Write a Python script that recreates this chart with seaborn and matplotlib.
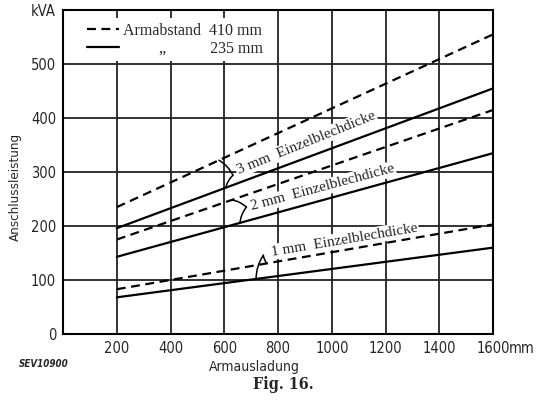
import matplotlib
matplotlib.use("Agg")
import matplotlib.pyplot as plt
from matplotlib.lines import Line2D
import seaborn as sns
import pandas as pd
import numpy as np

# Armausladung (mm), Endpunkte der Geraden
armausladung = [200, 1600]

# Armabstand 410 mm (gestrichelt)
d410_3mm = [235, 555]
d410_2mm = [175, 415]
d410_1mm = [83, 203]

# Armabstand 235 mm (ausgezogen)
d235_3mm = [196, 455]
d235_2mm = [143, 335]
d235_1mm = [68, 160]

x_ticks = [200, 400, 600, 800, 1000, 1200, 1400, 1600]
y_ticks = [0, 100, 200, 300, 400, 500]

rows = []
for abstand, series in [("410", {"3": d410_3mm, "2": d410_2mm, "1": d410_1mm}),
                        ("235", {"3": d235_3mm, "2": d235_2mm, "1": d235_1mm})]:
    for dicke, vals in series.items():
        for x, y in zip(armausladung, vals):
            rows.append({"x": x, "y": y, "abstand": abstand, "dicke": dicke})
df = pd.DataFrame(rows)

sns.set_style("white")
plt.rcParams["font.family"] = ["DejaVu Sans"]
plt.rcParams["font.stretch"] = "condensed"

fig = plt.figure(figsize=(5.39, 4.01), dpi=100)
ax = fig.add_axes([0.117, 0.167, 0.798, 0.808])

sns.lineplot(data=df, x="x", y="y", style="abstand", units="dicke",
             estimator=None, color="black", lw=1.6,
             dashes={"410": (4, 2.5), "235": ""}, legend=False, ax=ax, zorder=3)

ax.set_xlim(0, 1600)
ax.set_ylim(0, 600)
ax.set_xticks(x_ticks)
ax.set_xticklabels([str(v) for v in x_ticks], fontsize=10.5)
ax.set_yticks(y_ticks + [600])
ax.set_yticklabels([str(v) for v in y_ticks] + ["kVA"], fontsize=10.5)
ax.tick_params(length=0, pad=5)
ax.set_xlabel("")
ax.set_ylabel("")
for s in ax.spines.values():
    s.set_color("black")
    s.set_linewidth(1.5)
for v in x_ticks[:-1]:
    ax.axvline(v, color="#222222", lw=1.3, zorder=1)
for v in y_ticks[1:]:
    ax.axhline(v, color="#222222", lw=1.3, zorder=1)

ax.annotate("mm", xy=(1600, 0), xytext=(11.5, -5), textcoords="offset points",
            fontsize=10.5, ha="left", va="top")

# Beschriftungen
lbl = dict(fontsize=11, ha="center", va="center", zorder=2,
           family=["Liberation Serif"], rotation_mode="anchor",
           bbox=dict(facecolor="white", edgecolor="none", pad=1))
ax.text(904, 354, "3 mm  Einzelblechdicke", rotation=22, **lbl)
ax.text(965, 271, "2 mm  Einzelblechdicke", rotation=15, **lbl)
ax.text(1046, 174, "1 mm  Einzelblechdicke", rotation=9.5, **lbl)

# Klammern zu den Kurven
for tip, xd, xs, dl, sl in [((632, 294), 580, 605, d410_3mm, d235_3mm),
                            ((682, 235), 628, 658, d410_2mm, d235_2mm),
                            ((745, 146), 758, 718, d410_1mm, d235_1mm)]:
    for xe, vals in [(xd, dl), (xs, sl)]:
        ye = np.interp(xe, armausladung, vals)
        ax.annotate("", xy=(xe, ye), xytext=tip,
                    arrowprops=dict(arrowstyle="-", lw=1.1, color="black",
                                    shrinkA=0, shrinkB=0,
                                    connectionstyle="arc3,rad=0.15"), zorder=5)

handles = [Line2D([], [], color="black", lw=1.6, dashes=(4, 2.5)),
           Line2D([], [], color="black", lw=1.6)]
leg = ax.legend(handles, ["Armabstand  410 mm", "         \u201e           235 mm"],
                loc="upper left", bbox_to_anchor=(0.025, 1.0), frameon=True,
                handlelength=2.0, handletextpad=0.3, borderpad=0.3,
                labelspacing=0.1,
                prop={"family": ["Liberation Serif"], "size": 11.5})
leg.get_frame().set_facecolor("white")
leg.get_frame().set_edgecolor("none")
leg.get_frame().set_alpha(1)
leg.set_zorder(6)

fig.text(0.028, 0.535, "Anschlussleistung", rotation=90, ha="center", va="center",
         fontsize=9.5)
fig.text(0.472, 0.085, "Armausladung", ha="center", va="center", fontsize=10)
fig.text(0.035, 0.092, "SEV10900", ha="left", va="center", fontsize=7,
         style="italic", weight="bold")
fig.text(0.525, 0.04, "Fig. 16.", ha="center", va="center", fontsize=11.5,
         weight="bold", family=["DejaVu Serif"])

fig.savefig("out.png", dpi=100)
